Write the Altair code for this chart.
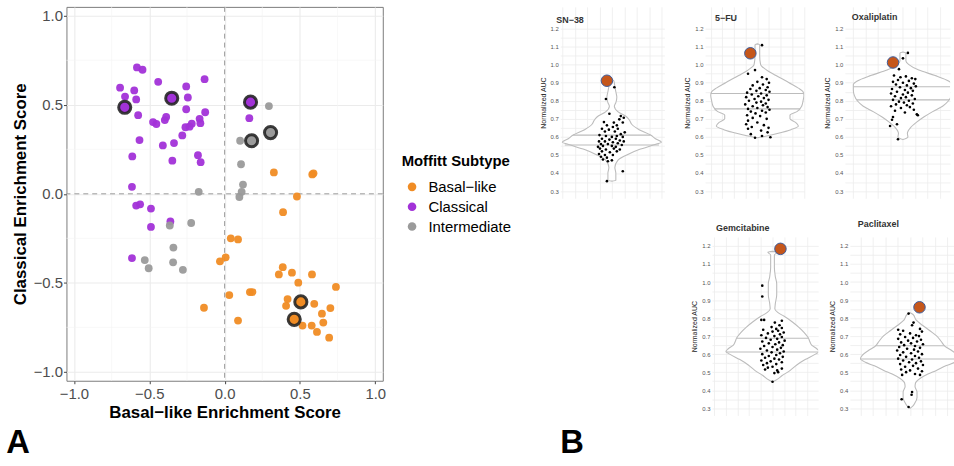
import altair as alt
import pandas as pd

# ---------------- Panel A : enrichment scores ----------------
subtypes = ["Basal−like", "Classical", "Intermediate"]
subtype_colors = ["#F08C24", "#A232D8", "#9A9A9A"]

basal_x = [0.327, 0.582, 0.590, 0.480, 0.388, 0.041, 0.089, 0.007, -0.031, 0.031, -0.137, 0.168, 0.185, 0.089,
           0.386, 0.360, 0.447, 0.489, 0.580, 0.739, 0.418, 0.408, 0.595, 0.646, 0.655, 0.702, 0.578, 0.517,
           0.613, 0.694]
basal_y = [0.120, 0.109, 0.115, -0.015, -0.103, -0.250, -0.256, -0.357, -0.379, -0.569, -0.640, -0.552, -0.552,
           -0.712, -0.412, -0.453, -0.443, -0.499, -0.453, -0.523, -0.591, -0.629, -0.618, -0.673, -0.723, -0.642,
           -0.740, -0.740, -0.776, -0.808]
basal_hl_x = [0.506, 0.462]
basal_hl_y = [-0.607, -0.705]

classical_x = [-0.694, -0.661, -0.582, -0.545, -0.600, -0.587, -0.441, -0.255, -0.244, -0.133, -0.574, -0.565,
               -0.475, -0.453, -0.397, -0.388, -0.410, -0.336, -0.281, -0.255, -0.260, -0.233, -0.218, -0.166,
               -0.161, -0.129, -0.613, -0.347, -0.177, -0.159, -0.615, -0.587, -0.561, -0.489, -0.489, -0.360,
               -0.615, 0.164]
classical_y = [0.596, 0.546, 0.710, 0.697, 0.581, 0.530, 0.629, 0.603, 0.541, 0.644, 0.442, 0.302, 0.403, 0.392,
               0.414, 0.432, 0.272, 0.285, 0.328, 0.475, 0.374, 0.377, 0.394, 0.421, 0.397, 0.458, 0.210, 0.186,
               0.217, 0.178, 0.039, -0.066, -0.059, -0.083, -0.186, -0.155, -0.361, 0.425]
classical_hl_x = [-0.663, -0.351, 0.172]
classical_hl_y = [0.486, 0.537, 0.515]

inter_x = [0.294, 0.103, 0.109, 0.122, 0.113, 0.098, -0.172, -0.364, -0.222, -0.340, -0.342, -0.530, -0.504, -0.277]
inter_y = [0.493, 0.298, 0.166, 0.052, 0.011, -0.018, 0.011, -0.178, -0.164, -0.302, -0.385, -0.372, -0.418, -0.427]
inter_hl_x = [0.179, 0.305]
inter_hl_y = [0.298, 0.344]

major_ticks = [-1.0, -0.5, 0.0, 0.5, 1.0]
minor_ticks = [-0.75, -0.25, 0.25, 0.75]

# ---------------- Panel B : violins ----------------
sn38_prof_auc = [0.355, 0.36, 0.40, 0.43, 0.47, 0.50, 0.53, 0.56, 0.57, 0.59, 0.61, 0.64, 0.67, 0.69, 0.71, 0.74,
                 0.77, 0.79, 0.82, 0.85, 0.88, 0.91, 0.92]
sn38_prof_w = [0.0, 0.08, 0.08, 0.06, 0.12, 0.30, 0.55, 0.90, 1.0, 0.88, 0.78, 0.55, 0.40, 0.36, 0.30, 0.12,
               0.05, 0.08, 0.10, 0.08, 0.06, 0.04, 0.0]
sn38_q_auc = [0.61, 0.555]
sn38_q_w = [0.78, 0.95]
sn38_auc = [0.875, 0.81, 0.41, 0.355, 0.465, 0.47, 0.728, 0.715, 0.706, 0.697, 0.682, 0.664, 0.679, 0.655, 0.664,
            0.68, 0.645, 0.64, 0.645, 0.625, 0.63, 0.63, 0.615, 0.61, 0.605, 0.60, 0.605, 0.60, 0.59, 0.585, 0.59,
            0.58, 0.575, 0.575, 0.57, 0.575, 0.56, 0.56, 0.565, 0.555, 0.55, 0.55, 0.545, 0.545, 0.535, 0.53, 0.535,
            0.53, 0.52, 0.515, 0.52, 0.505, 0.50, 0.50, 0.49, 0.485, 0.475]
sn38_jit = [0.05, -0.12, 0.22, -0.10, -0.08, 0.0, -0.05, 0.18, 0.24, 0.15, -0.16, -0.10, 0.04, 0.02, 0.10, 0.22,
            -0.20, -0.06, 0.12, 0.26, 0.06, -0.14, 0.18, -0.25, -0.12, 0.0, 0.10, 0.22, -0.20, -0.05, 0.08, 0.16,
            -0.26, -0.14, 0.02, 0.24, -0.22, -0.08, 0.12, 0.20, -0.18, 0.0, 0.08, -0.28, -0.24, -0.12, 0.04, 0.16,
            -0.20, -0.04, 0.10, -0.26, -0.14, 0.02, -0.22, -0.10, -0.18]
sn38_dot = (0.911, -0.10)

fu_prof_auc = [0.595, 0.605, 0.62, 0.64, 0.66, 0.68, 0.70, 0.72, 0.74, 0.77, 0.80, 0.83, 0.85, 0.87, 0.90, 0.94,
               0.97, 1.00, 1.05, 1.11, 1.115]
fu_prof_w = [0.0, 0.2, 0.45, 0.72, 0.88, 0.82, 0.70, 0.70, 0.85, 0.95, 0.98, 1.0, 0.98, 0.88, 0.68, 0.40,
             0.20, 0.07, 0.05, 0.05, 0.0]
fu_q_auc = [0.84, 0.755]
fu_q_w = [1.0, 0.92]
fu_auc = [1.108, 0.97, 0.95, 0.93, 0.92, 0.905, 0.90, 0.89, 0.885, 0.875, 0.87, 0.865, 0.86, 0.855, 0.85, 0.845,
          0.84, 0.835, 0.83, 0.825, 0.82, 0.815, 0.81, 0.805, 0.80, 0.795, 0.79, 0.785, 0.78, 0.775, 0.77, 0.765,
          0.76, 0.755, 0.75, 0.745, 0.74, 0.735, 0.73, 0.72, 0.715, 0.705, 0.70, 0.69, 0.68, 0.67, 0.665, 0.655,
          0.65, 0.645, 0.635, 0.625, 0.615, 0.605, 0.595, 0.598]
fu_jit = [0.10, -0.05, -0.2, 0.1, 0.2, 0.0, 0.25, 0.12, -0.1, 0.22, 0.05, -0.15, 0.18, -0.02, 0.26, -0.22, 0.08,
          -0.12, 0.2, 0.02, -0.24, 0.14, -0.06, 0.24, -0.18, 0.08, -0.02, 0.18, -0.26, 0.12, -0.1, 0.22, 0.0, -0.2,
          0.26, 0.1, -0.14, 0.18, -0.04, -0.22, 0.06, -0.1, 0.2, -0.2, 0.0, -0.24, 0.14, -0.12, 0.24, -0.2, 0.08,
          0.22, -0.14, 0.1, -0.05, 0.28]
fu_dot = (1.063, -0.15)

oxa_prof_auc = [0.585, 0.60, 0.62, 0.65, 0.68, 0.71, 0.74, 0.77, 0.80, 0.83, 0.86, 0.89, 0.91, 0.94, 0.97, 1.00,
                1.02, 1.065, 1.07]
oxa_prof_w = [0.0, 0.10, 0.09, 0.15, 0.27, 0.42, 0.60, 0.80, 0.92, 0.98, 1.0, 1.0, 0.92, 0.65, 0.32, 0.12,
              0.06, 0.06, 0.0]
oxa_q_auc = [0.878, 0.805]
oxa_q_w = [1.0, 0.93]
oxa_auc = [1.065, 1.035, 0.975, 0.94, 0.935, 0.93, 0.925, 0.92, 0.915, 0.91, 0.905, 0.90, 0.895, 0.89, 0.885, 0.88,
           0.875, 0.87, 0.865, 0.86, 0.855, 0.85, 0.845, 0.84, 0.835, 0.83, 0.825, 0.82, 0.815, 0.81, 0.805, 0.80,
           0.795, 0.79, 0.785, 0.78, 0.775, 0.77, 0.765, 0.76, 0.75, 0.745, 0.735, 0.725, 0.72, 0.71, 0.695, 0.67,
           0.66, 0.587]
oxa_jit = [0.1, 0.0, -0.08, -0.18, 0.06, -0.05, 0.18, 0.25, -0.1, 0.12, -0.2, 0.0, 0.22, -0.14, 0.08, 0.26, -0.06,
           0.16, -0.22, 0.04, 0.2, -0.12, 0.1, -0.24, 0.0, 0.18, -0.16, 0.06, -0.04, 0.24, -0.2, 0.12, -0.08, 0.02,
           0.2, -0.14, 0.08, -0.24, 0.14, -0.04, 0.22, -0.16, 0.04, 0.28, 0.3, -0.2, -0.22, -0.12, -0.26, -0.1]
oxa_dot = (1.012, -0.20)

gem_prof_auc = [0.445, 0.46, 0.48, 0.51, 0.54, 0.57, 0.60, 0.615, 0.63, 0.65, 0.67, 0.69, 0.72, 0.75, 0.78, 0.81,
                0.83, 0.85, 0.88, 0.93, 0.99, 1.03, 1.08, 1.15, 1.165, 1.17]
gem_prof_w = [0.0, 0.10, 0.20, 0.38, 0.52, 0.70, 0.92, 1.0, 0.95, 0.84, 0.80, 0.77, 0.68, 0.56, 0.42, 0.25,
              0.12, 0.05, 0.06, 0.09, 0.09, 0.06, 0.04, 0.04, 0.10, 0.0]
gem_q_auc = [0.688, 0.612]
gem_q_w = [0.77, 1.0]
gem_auc = [0.98, 0.92, 0.79, 0.79, 0.785, 0.775, 0.76, 0.75, 0.745, 0.74, 0.735, 0.73, 0.725, 0.72, 0.715, 0.71,
           0.705, 0.70, 0.695, 0.69, 0.685, 0.68, 0.675, 0.67, 0.665, 0.66, 0.655, 0.65, 0.645, 0.64, 0.635, 0.63,
           0.625, 0.62, 0.615, 0.61, 0.605, 0.60, 0.595, 0.59, 0.585, 0.58, 0.575, 0.57, 0.565, 0.56, 0.555, 0.55,
           0.545, 0.54, 0.53, 0.525, 0.52, 0.515, 0.51, 0.50, 0.495, 0.447]
gem_jit = [-0.22, -0.22, -0.24, -0.18, 0.2, 0.05, 0.15, -0.02, 0.2, 0.08, -0.2, 0.12, 0.0, 0.24, -0.1, 0.16, -0.24,
           0.04, 0.2, -0.14, 0.1, -0.04, 0.26, -0.22, 0.14, -0.08, 0.06, 0.22, -0.18, 0.0, 0.18, -0.26, 0.1, -0.12,
           0.24, -0.02, 0.16, -0.22, 0.08, -0.08, 0.22, -0.16, 0.04, 0.14, -0.24, -0.04, 0.2, -0.12, 0.08, -0.2,
           0.0, -0.1, 0.2, -0.16, 0.1, 0.12, 0.04, 0.0]
gem_dot = (1.184, 0.17)

pac_prof_auc = [0.30, 0.31, 0.33, 0.36, 0.39, 0.42, 0.44, 0.465, 0.49, 0.51, 0.535, 0.555, 0.575, 0.595, 0.62,
                0.645, 0.67, 0.70, 0.73, 0.76, 0.79, 0.82, 0.83]
pac_prof_w = [0.0, 0.05, 0.10, 0.14, 0.14, 0.10, 0.11, 0.20, 0.36, 0.53, 0.72, 0.90, 1.0, 0.96, 0.84, 0.70,
              0.63, 0.54, 0.40, 0.25, 0.12, 0.06, 0.0]
pac_q_auc = [0.647, 0.573]
pac_q_w = [0.70, 1.0]
pac_auc = [0.825, 0.775, 0.76, 0.74, 0.735, 0.73, 0.725, 0.715, 0.71, 0.705, 0.70, 0.695, 0.69, 0.685, 0.68, 0.675,
           0.67, 0.665, 0.66, 0.655, 0.65, 0.645, 0.64, 0.635, 0.63, 0.625, 0.62, 0.615, 0.61, 0.605, 0.60, 0.595,
           0.59, 0.585, 0.58, 0.575, 0.57, 0.565, 0.56, 0.555, 0.55, 0.545, 0.54, 0.535, 0.53, 0.52, 0.515, 0.51,
           0.505, 0.50, 0.49, 0.485, 0.485, 0.39, 0.375, 0.35, 0.307]
pac_jit = [-0.03, 0.07, 0.04, 0.2, -0.24, -0.14, 0.24, 0.0, -0.2, 0.12, 0.18, -0.1, 0.06, -0.24, 0.22, -0.04, 0.14,
           -0.18, 0.02, 0.26, -0.12, 0.1, -0.22, 0.2, -0.06, 0.08, -0.26, 0.16, -0.14, 0.02, 0.24, -0.2, 0.1, -0.08,
           0.18, -0.24, 0.04, -0.14, 0.22, -0.02, 0.12, -0.2, 0.26, 0.06, -0.1, 0.16, -0.18, 0.0, 0.24, -0.08, 0.1,
           -0.16, 0.2, 0.04, 0.03, -0.17, -0.03]
pac_dot = (0.86, 0.19)

y_auc_ticks = [round(0.3 + 0.05 * i, 2) for i in range(19)]
FONT = "Liberation Sans"

# ---------------- build panel A ----------------
rows = []
for xs, ys, st, hl in [(basal_x, basal_y, subtypes[0], False), (classical_x, classical_y, subtypes[1], False),
                       (inter_x, inter_y, subtypes[2], False), (basal_hl_x, basal_hl_y, subtypes[0], True),
                       (classical_hl_x, classical_hl_y, subtypes[1], True), (inter_hl_x, inter_hl_y, subtypes[2], True)]:
    for a, b in zip(xs, ys):
        rows.append({"basal": a, "classical": b, "subtype": st, "hl": hl})
dfA = pd.DataFrame(rows)

xscaleA = alt.Scale(domain=[-1.05, 1.05], nice=False, zero=False)
yscaleA = alt.Scale(domain=[-1.05, 1.05], nice=False, zero=False)
color = alt.Color("subtype:N", scale=alt.Scale(domain=subtypes, range=subtype_colors),
                  legend=alt.Legend(title="Moffitt Subtype", orient="none", legendX=338, legendY=148,
                                    titleFontSize=15, titleFontWeight="bold", titleColor="black",
                                    labelFontSize=15, labelColor="black", symbolSize=75, symbolType="circle",
                                    rowPadding=4, titlePadding=11, titleFont=FONT, labelFont=FONT,
                                    symbolOpacity=1, symbolOffset=3, labelOffset=9))

axXA = alt.Axis(values=major_ticks, format=".1f", labelFontSize=15, labelColor="#4d4d4d", labelFont=FONT,
                tickColor="#444", tickSize=3, domain=False, gridColor="#ebebeb", gridWidth=1.1,
                title="Basal−like Enrichment Score", titleFontSize=17, titleFontWeight="bold", titleFont=FONT,
                titleColor="black", titlePadding=3, labelPadding=3)
axYA = alt.Axis(values=major_ticks, format=".1f", labelFontSize=15, labelColor="#4d4d4d", labelFont=FONT,
                tickColor="#444", tickSize=3, domain=False, gridColor="#ebebeb", gridWidth=1.1,
                title="Classical Enrichment Score", titleFontSize=17, titleFontWeight="bold", titleFont=FONT,
                titleColor="black", titlePadding=4, labelPadding=1)

minor_df = pd.DataFrame({"v": minor_ticks})
zero_df = pd.DataFrame({"v": [0.0]})
minor_x = alt.Chart(minor_df).mark_rule(color="#f3f3f3", strokeWidth=0.6).encode(x=alt.X("v:Q", scale=xscaleA, axis=axXA))
minor_y = alt.Chart(minor_df).mark_rule(color="#f3f3f3", strokeWidth=0.6).encode(y=alt.Y("v:Q", scale=yscaleA, axis=axYA))
zero_x = alt.Chart(zero_df).mark_rule(color="#9a9a9a", strokeWidth=1, strokeDash=[5, 4]).encode(x=alt.X("v:Q", scale=xscaleA, axis=axXA))
zero_y = alt.Chart(zero_df).mark_rule(color="#9a9a9a", strokeWidth=1, strokeDash=[5, 4]).encode(y=alt.Y("v:Q", scale=yscaleA, axis=axYA))
pts = alt.Chart(dfA).transform_filter("!datum.hl").mark_circle(size=62, opacity=0.95).encode(
    x=alt.X("basal:Q", scale=xscaleA, axis=axXA), y=alt.Y("classical:Q", scale=yscaleA, axis=axYA), color=color)
hl = alt.Chart(dfA).transform_filter("datum.hl").mark_circle(size=150, opacity=1, stroke="#262626",
                                                             strokeWidth=3, strokeOpacity=0.9).encode(
    x=alt.X("basal:Q", scale=xscaleA, axis=axXA), y=alt.Y("classical:Q", scale=yscaleA, axis=axYA),
    color=alt.Color("subtype:N", scale=alt.Scale(domain=subtypes, range=subtype_colors), legend=None))

panelA = alt.layer(minor_x, minor_y, zero_x, zero_y, pts, hl).properties(
    width=319, height=377,
    view=alt.ViewBackground(stroke="#7a7a7a", strokeWidth=1),
    title=alt.TitleParams("A", orient="bottom", anchor="start", frame="bounds", fontSize=33, fontWeight="bold",
                          font=FONT, color="black", dx=-5, offset=7))


# ---------------- build panel B ----------------
def violin(name, prof_auc, prof_w, q_auc, q_w, p_auc, p_jit, dot, xmin, xmax, width, title_dx, title_offset,
           ytop, height):
    prof = pd.DataFrame({"auc": prof_auc, "w": prof_w})
    quant = pd.DataFrame({"auc": q_auc, "w": q_w})
    points = pd.DataFrame({"auc": p_auc, "jit": p_jit})
    dotdf = pd.DataFrame({"auc": [dot[0]], "jit": [dot[1]]})
    xs = alt.Scale(domain=[xmin, xmax], nice=False, zero=False)
    ys = alt.Scale(domain=[0.26, ytop], nice=False, zero=False)
    gridx = [v / 4 for v in range(-8, 8) if xmin < v / 4 < xmax]
    ax_x = alt.Axis(values=gridx, labels=False, ticks=False, domain=False, title="", gridColor="#ececec",
                    gridWidth=0.8)
    ax_y = alt.Axis(values=y_auc_ticks, ticks=False, domain=False, labelFontSize=6, labelColor="#555",
                    labelFont=FONT, labelPadding=2,
                    labelExpr="abs(datum.value * 10 - round(datum.value * 10)) < 0.01 ? format(datum.value, '.1f') : ''",
                    title="Normalized AUC", titleFontSize=7, titleFontWeight="normal", titleFont=FONT,
                    titleColor="#222", titlePadding=4, gridColor="#ececec", gridWidth=0.8)
    X = lambda f: alt.X(f, scale=xs, axis=ax_x)
    Y = alt.Y("auc:Q", scale=ys, axis=ax_y)
    area = alt.Chart(prof).transform_calculate(lo="-datum.w", hi="datum.w").mark_area(
        orient="horizontal", fill="white", stroke="#bcbcbc", strokeWidth=1.1, interpolate="monotone", clip=True
    ).encode(y=Y, x=X("lo:Q"), x2="hi:Q")
    qlines = alt.Chart(quant).transform_calculate(lo="-datum.w", hi="datum.w").mark_rule(
        color="#bcbcbc", strokeWidth=1.1, clip=True).encode(y=Y, x=X("lo:Q"), x2="hi:Q")
    dots = alt.Chart(points).mark_circle(size=7, color="black", opacity=1, clip=True).encode(y=Y, x=X("jit:Q"))
    big = alt.Chart(dotdf).mark_circle(size=135, fill="#C5561A", stroke="#3d5a99", strokeWidth=1, opacity=1,
                                       clip=True).encode(y=Y, x=X("jit:Q"))
    return alt.layer(area, qlines, dots, big).properties(
        width=width, height=height, view=alt.ViewBackground(strokeWidth=0),
        title=alt.TitleParams(name, fontSize=9, fontWeight="bold", font=FONT, color="#333", anchor="start",
                              frame="group", dx=title_dx, offset=title_offset))


v_sn38 = violin("SN−38", sn38_prof_auc, sn38_prof_w, sn38_q_auc, sn38_q_w, sn38_auc, sn38_jit, sn38_dot,
                -1.04, 1.06, 105, -4, -18, 1.32, 193)
v_fu = violin("5−FU", fu_prof_auc, fu_prof_w, fu_q_auc, fu_q_w, fu_auc, fu_jit, fu_dot,
              -1.121, 1.006, 100, 10, -16, 1.32, 193)
v_oxa = violin("Oxaliplatin", oxa_prof_auc, oxa_prof_w, oxa_q_auc, oxa_q_w, oxa_auc, oxa_jit, oxa_dot,
               -1.17, 0.95, 106, 7, -15, 1.32, 193)
v_gem = violin("Gemcitabine", gem_prof_auc, gem_prof_w, gem_q_auc, gem_q_w, gem_auc, gem_jit, gem_dot,
               -1.298, 0.979, 107, 4, 4, 1.25, 180)
v_pac = violin("Paclitaxel", pac_prof_auc, pac_prof_w, pac_q_auc, pac_q_w, pac_auc, pac_jit, pac_dot,
               -1.214, 0.886, 105, 8, 8, 1.25, 180)

spacer = alt.Chart(pd.DataFrame({"t": ["B"]})).mark_text(
    align="left", baseline="alphabetic", fontSize=33, fontWeight="bold", font=FONT, color="black"
).encode(text="t:N", x=alt.value(0), y=alt.value(218)).properties(
    width=121, height=219, view=alt.ViewBackground(strokeWidth=0))

top_row = alt.hconcat(v_sn38, v_fu, v_oxa, spacing=19)
bottom_row = alt.hconcat(spacer, v_gem, v_pac, spacing=10)
panelB = alt.vconcat(top_row, bottom_row, spacing=22)

chart = alt.concat(panelA, panelB, columns=2, spacing=153).properties(
    padding={"left": 5, "top": 4, "right": 0, "bottom": 0}, background="white"
).configure_view(strokeWidth=0)

chart.save("out.html", embed_options={"renderer": "svg", "actions": False})
